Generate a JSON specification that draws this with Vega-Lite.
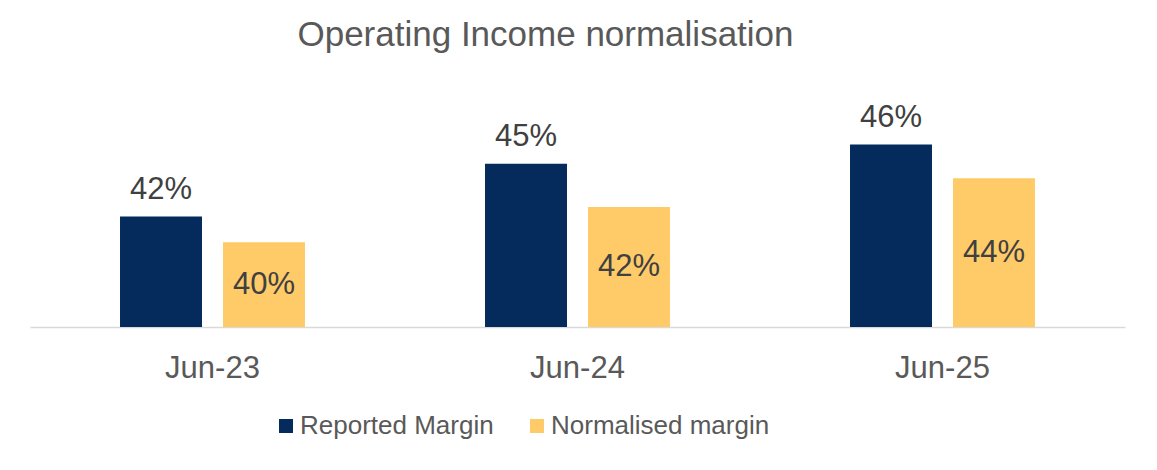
{
  "$schema": "https://vega.github.io/schema/vega-lite/v6.json",
  "autosize": "none",
  "padding": {"left": 30, "top": 87, "right": 32, "bottom": 143},
  "width": 1095,
  "height": 240,
  "background": "#ffffff",
  "title": {
    "text": "Operating Income normalisation",
    "anchor": "middle",
    "frame": "group",
    "dx": -32,
    "baseline": "alphabetic",
    "offset": 6,
    "font": "Liberation Sans",
    "fontSize": 35,
    "fontWeight": "normal",
    "color": "#595959"
  },
  "data": {
    "values": [
      {"period": "Jun-23", "series": "Reported Margin", "value": 0.417},
      {"period": "Jun-23", "series": "Normalised margin", "value": 0.401},
      {"period": "Jun-24", "series": "Reported Margin", "value": 0.450},
      {"period": "Jun-24", "series": "Normalised margin", "value": 0.423},
      {"period": "Jun-25", "series": "Reported Margin", "value": 0.462},
      {"period": "Jun-25", "series": "Normalised margin", "value": 0.441}
    ]
  },
  "encoding": {
    "x": {
      "field": "period",
      "type": "nominal",
      "sort": ["Jun-23", "Jun-24", "Jun-25"],
      "scale": {"paddingInner": 0, "paddingOuter": 0},
      "axis": {
        "title": null,
        "labelAngle": 0,
        "ticks": false,
        "domainColor": "#D9D9D9",
        "domainWidth": 1.5,
        "labelBaseline": "alphabetic",
        "labelPadding": 50,
        "labelFont": "Liberation Sans",
        "labelFontSize": 31,
        "labelColor": "#595959"
      }
    },
    "xOffset": {
      "field": "series",
      "type": "nominal",
      "scale": {
        "domain": ["Reported Margin", "Normalised margin"],
        "paddingInner": 0.204,
        "paddingOuter": 0.874
      }
    }
  },
  "layer": [
    {
      "mark": {"type": "bar"},
      "encoding": {
        "y": {
          "field": "value",
          "type": "quantitative",
          "scale": {"domain": [0.348, 0.498], "nice": false, "zero": false},
          "axis": null
        },
        "y2": {"datum": 0.348},
        "color": {
          "field": "series",
          "type": "nominal",
          "scale": {
            "domain": ["Reported Margin", "Normalised margin"],
            "range": ["#042B5C", "#FFCB69"]
          },
          "legend": {
            "title": null,
            "orient": "none",
            "direction": "horizontal",
            "legendX": 243,
            "legendY": 326,
            "symbolType": "square",
            "symbolSize": 196,
            "symbolStrokeWidth": 0,
            "labelFont": "Liberation Sans",
            "labelFontSize": 26,
            "labelColor": "#595959",
            "labelLimit": 0,
            "labelOffset": 1,
            "columnPadding": 30
          }
        }
      }
    },
    {
      "transform": [{"filter": "datum.series === 'Reported Margin'"}],
      "mark": {
        "type": "text",
        "baseline": "alphabetic",
        "dy": -18,
        "font": "Liberation Sans",
        "fontSize": 31,
        "color": "#404040"
      },
      "encoding": {
        "y": {"field": "value", "type": "quantitative"},
        "text": {"field": "value", "type": "quantitative", "format": ".0%"}
      }
    },
    {
      "transform": [
        {"filter": "datum.series === 'Normalised margin'"},
        {"calculate": "(datum.value + 0.348) / 2", "as": "mid"}
      ],
      "mark": {
        "type": "text",
        "baseline": "middle",
        "font": "Liberation Sans",
        "fontSize": 31,
        "color": "#404040"
      },
      "encoding": {
        "y": {"field": "mid", "type": "quantitative"},
        "text": {"field": "value", "type": "quantitative", "format": ".0%"}
      }
    }
  ],
  "config": {
    "view": {"stroke": null},
    "axis": {"grid": false}
  }
}
